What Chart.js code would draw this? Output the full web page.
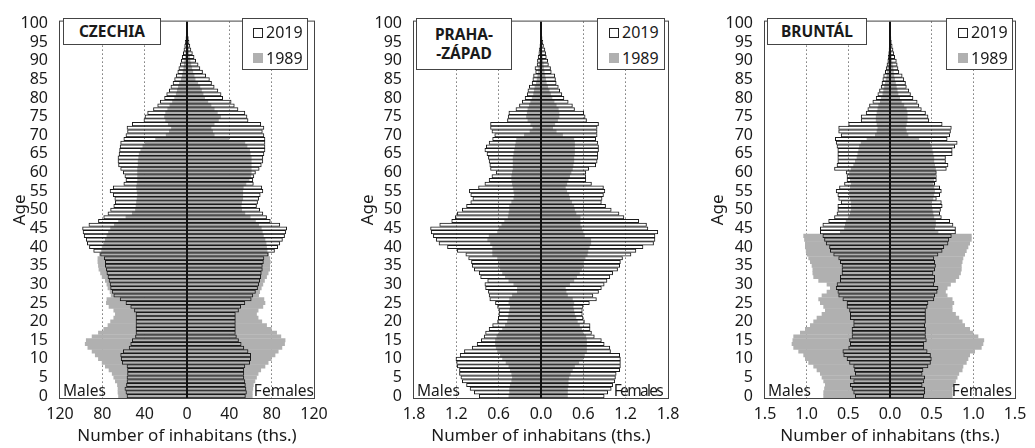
<!DOCTYPE html>
<html><head><meta charset="utf-8">
<script src="https://cdn.jsdelivr.net/npm/chart.js@4.4.1/dist/chart.umd.min.js"></script>
<style>
html,body{margin:0;padding:0;background:#fff;width:1035px;height:448px;overflow:hidden;font-family:"Noto Sans",sans-serif;color:#1a1a1a}
.panel{position:absolute;top:0;height:448px}
.box{position:absolute;border:1px solid #444;background:#fff;box-sizing:border-box}
.ttl{font-weight:bold;font-size:15.5px;display:flex;align-items:center;justify-content:center;text-align:center;line-height:19px}
.sq{position:absolute;width:10px;height:10px;box-sizing:border-box}
.lt{position:absolute;font-size:16px;line-height:18px}
.lab{position:absolute;font-size:15.5px;line-height:18px;top:381px;white-space:nowrap}
</style></head><body>

<div class="panel" id="p0" style="left:0px;width:338px"><canvas id="c0"></canvas></div>
<div class="panel" id="p1" style="left:354px;width:338px"><canvas id="c1"></canvas></div>
<div class="panel" id="p2" style="left:705px;width:336px"><canvas id="c2"></canvas></div>

<div class="box ttl" style="left:63px;top:18px;width:98px;height:27px">CZECHIA</div>
<div class="box ttl" style="left:416px;top:18px;width:96px;height:52px">PRAHA-<br>-ZÁPAD</div>
<div class="box ttl" style="left:767px;top:18px;width:100px;height:27px">BRUNTÁL</div>

<div class="box" style="left:242px;top:18px;width:66px;height:52px">
  <div class="sq" style="left:10px;top:9px;border:1px solid #222;background:#fff"></div><div class="lt" style="left:23px;top:4px">2019</div>
  <div class="sq" style="left:10px;top:34px;background:#b0b0b0"></div><div class="lt" style="left:23px;top:30px">1989</div>
</div>
<div class="box" style="left:597px;top:18px;width:68px;height:52px">
  <div class="sq" style="left:11px;top:9px;border:1px solid #222;background:#fff"></div><div class="lt" style="left:24px;top:4px">2019</div>
  <div class="sq" style="left:11px;top:34px;background:#b0b0b0"></div><div class="lt" style="left:24px;top:30px">1989</div>
</div>
<div class="box" style="left:946px;top:18px;width:67px;height:52px">
  <div class="sq" style="left:11px;top:9px;border:1px solid #222;background:#fff"></div><div class="lt" style="left:24px;top:4px">2019</div>
  <div class="sq" style="left:11px;top:34px;background:#b0b0b0"></div><div class="lt" style="left:24px;top:30px">1989</div>
</div>

<div class="lab" style="left:63px">Males</div>
<div class="lab" style="right:721px">Females</div>
<div class="lab" style="left:417px">Males</div>
<div class="lab" style="right:373px;letter-spacing:-1.7px">Females</div>
<div class="lab" style="left:768px">Males</div>
<div class="lab" style="right:23px">Females</div>

<script>
const ages = [0,1,2,3,4,5,6,7,8,9,10,11,12,13,14,15,16,17,18,19,20,21,22,23,24,25,26,27,28,29,30,31,32,33,34,35,36,37,38,39,40,41,42,43,44,45,46,47,48,49,50,51,52,53,54,55,56,57,58,59,60,61,62,63,64,65,66,67,68,69,70,71,72,73,74,75,76,77,78,79,80,81,82,83,84,85,86,87,88,89,90,91,92,93,94,95,96,97,98,99,100];
const ageTickLabels = [0,5,10,15,20,25,30,35,40,45,50,55,60,65,70,75,80,85,90,95,100];

const czTicks = [-120,-80,-40,0,40,80,120];
const pzTicks = [-1.8,-1.2,-0.6,0,0.6,1.2,1.8];
const brTicks = [-1.5,-1.0,-0.5,0,0.5,1.0,1.5];

// CZECHIA (ths.)
const cz_m19 = [57,58,59,57.5,57,57,56.5,56.5,57,61.5,
 62.5,63,60.5,55,53.5,52,49,48.5,48.5,48.5,
 48.5,48.5,48.5,50,53.5,58,63.5,69.5,71,72.5,
 73,74,75,76,76.5,77.5,77.5,78.5,82,88.5,
 92.5,94.5,95.5,97.5,98.5,99,93,84,79,75,
 72.5,69.5,68,68.5,70,73,70,60,58,59,
 60.5,63,65,65.5,65.5,64.5,64,63.5,63,60,
 58,56.5,57,52,41,40,37.5,32,28,25.5,
 21.5,19.5,17,15.5,13.5,12,10.5,9,8,6.7,
 5.7,4.8,3.8,3.2,2.5,1.9,1.3,0.9,0.6,0.4,
 0.2];
const cz_f19 = [55.5,56.5,56,55.5,55,54,54,54,55,59.5,
 60.5,60.5,58,54,51.5,49,47,46,46,46,
 46,46,46,49,51,55,61,62.5,65,67,
 68,69,70,70.5,71.5,71.5,72.5,73,77,83,
 86,88,90.5,92.5,93.5,94.5,88,79,75.5,72,
 69,66,67,68,69.5,72,71,63,62.5,63.5,
 65,68.5,70.5,72,72,73,74,74,74,74,
 73,71.5,73,70,58,57,55,48.5,45,42,
 34,32.5,29.5,26,23.5,21.5,18,15,12.5,10.8,
 8.5,7,5.4,4,3,2.2,1.6,1.1,0.8,0.5,
 0.4];
const cz_m89 = [65,65.5,65.5,66,68,69.5,71,74,77.5,80.5,
 84,87,90,94,96.5,95.5,90,84,79,75,
 72.5,69.5,68,69.5,74,76.5,76,72,73,75,
 76,77.5,80.5,82,83.5,84,84.5,84.5,83,81,
 80.5,79,77.5,76,74.5,72.5,69,65,58,52,
 49,48.5,48,47.5,47,47.5,48,47.5,47,47,
 47,47,46.5,46.5,46,45.5,44,42,40,30,
 20,17,15,18,20.5,21.5,20.5,18.5,16.5,14,
 12,10.5,9.5,8.5,7.5,5.7,4.8,4,3.3,2.8,
 2.3,1.8,1.4,1.1,0.8,0.6,0.4,0.3,0.2,0.1,
 0.1];
const cz_f89 = [62,62,62.5,63,64.5,66,67.5,70,74,77,
 80,83.5,86.5,90,92.5,93,89,85,80,75.5,
 71,67.5,66,67.5,72,74,73,68,69,70.5,
 72,73.5,75.5,77,78.5,78.5,79,78.5,77.5,76,
 75.5,75,74,72.5,71.5,70.5,68,65,60,55,
 52,51.5,52,53,53,53,53.5,56,59,60.5,
 61,61,61,61,61,60,59.5,57,55,40,
 26,24.5,23,26,30,32,29,26,23,20,
 17,15.5,14,12.5,10.5,8,7,5.8,4.8,4,
 3.2,2.6,2,1.6,1.2,0.9,0.6,0.4,0.3,0.2,
 0.1];

// PRAHA-ZÁPAD (ths.)
const pz_m19 = [0.88,0.95,1.01,1.06,1.12,1.14,1.16,1.16,1.19,1.2,
 1.21,1.15,1.09,0.98,0.91,0.85,0.81,0.79,0.74,0.69,
 0.62,0.61,0.6,0.6,0.62,0.65,0.73,0.74,0.75,0.79,
 0.8,0.76,0.86,0.88,0.95,0.98,0.99,1.03,1.07,1.19,
 1.33,1.45,1.49,1.53,1.56,1.57,1.44,1.27,1.22,1.19,
 1.12,1.06,1.0,0.97,1.0,1.02,0.89,0.8,0.74,0.7,
 0.64,0.72,0.73,0.74,0.75,0.77,0.8,0.78,0.74,0.69,
 0.66,0.7,0.72,0.72,0.48,0.47,0.46,0.36,0.31,0.27,
 0.23,0.2,0.19,0.17,0.13,0.12,0.11,0.08,0.09,0.06,
 0.055,0.045,0.035,0.03,0.02,0.015,0.01,0.008,0.005,0.003,
 0.002];
const pz_f19 = [0.9,0.95,1.0,1.02,1.05,1.06,1.07,1.12,1.13,1.13,
 1.13,1.12,0.99,0.98,0.9,0.86,0.76,0.72,0.7,0.7,
 0.62,0.6,0.59,0.59,0.6,0.69,0.79,0.74,0.82,0.86,
 0.9,0.94,0.98,1.02,1.09,1.12,1.13,1.16,1.28,1.35,
 1.45,1.6,1.62,1.62,1.66,1.52,1.5,1.39,1.18,1.11,
 1.0,0.92,0.86,0.87,0.89,0.91,0.89,0.72,0.64,0.64,
 0.64,0.68,0.78,0.8,0.81,0.81,0.82,0.82,0.81,0.78,
 0.8,0.8,0.8,0.82,0.65,0.63,0.61,0.48,0.45,0.39,
 0.33,0.3,0.27,0.25,0.22,0.21,0.2,0.15,0.14,0.11,
 0.1,0.08,0.07,0.06,0.04,0.03,0.02,0.015,0.01,0.005,
 0.003];
const pz_m89 = [0.46,0.45,0.45,0.44,0.42,0.41,0.42,0.44,0.46,0.5,
 0.55,0.58,0.62,0.64,0.65,0.65,0.63,0.6,0.55,0.51,
 0.48,0.47,0.46,0.45,0.44,0.46,0.45,0.41,0.34,0.34,
 0.39,0.46,0.51,0.55,0.58,0.59,0.59,0.62,0.69,0.69,
 0.69,0.72,0.76,0.74,0.62,0.6,0.56,0.52,0.47,0.46,
 0.45,0.45,0.42,0.39,0.38,0.39,0.4,0.41,0.42,0.42,
 0.41,0.4,0.4,0.4,0.4,0.39,0.38,0.37,0.36,0.35,
 0.24,0.16,0.12,0.15,0.19,0.21,0.2,0.19,0.17,0.15,
 0.13,0.11,0.1,0.09,0.07,0.06,0.05,0.04,0.035,0.03,
 0.02,0.018,0.014,0.01,0.008,0.006,0.004,0.003,0.002,0.001,
 0.001];
const pz_f89 = [0.38,0.38,0.38,0.39,0.39,0.4,0.42,0.45,0.48,0.54,
 0.6,0.62,0.65,0.65,0.65,0.65,0.64,0.6,0.58,0.55,
 0.52,0.5,0.48,0.47,0.46,0.47,0.45,0.38,0.36,0.35,
 0.41,0.47,0.51,0.55,0.58,0.6,0.61,0.63,0.66,0.67,
 0.69,0.71,0.71,0.62,0.6,0.58,0.56,0.56,0.56,0.5,
 0.48,0.47,0.44,0.41,0.4,0.37,0.35,0.37,0.39,0.41,
 0.43,0.45,0.46,0.47,0.47,0.48,0.48,0.48,0.48,0.47,
 0.31,0.22,0.17,0.2,0.24,0.26,0.26,0.25,0.22,0.19,
 0.16,0.14,0.12,0.1,0.08,0.07,0.06,0.05,0.04,0.035,
 0.03,0.024,0.018,0.014,0.01,0.008,0.005,0.003,0.002,0.001,
 0.001];

// BRUNTÁL (ths.)
const br_m19 = [0.42,0.44,0.46,0.48,0.44,0.48,0.42,0.43,0.44,0.49,
 0.52,0.56,0.57,0.5,0.48,0.49,0.46,0.46,0.46,0.44,
 0.44,0.48,0.48,0.49,0.52,0.52,0.57,0.62,0.63,0.65,
 0.64,0.6,0.6,0.58,0.58,0.58,0.6,0.62,0.68,0.72,
 0.73,0.77,0.79,0.81,0.84,0.84,0.81,0.74,0.67,0.64,
 0.63,0.63,0.59,0.62,0.63,0.65,0.61,0.55,0.52,0.52,
 0.53,0.67,0.64,0.63,0.63,0.63,0.63,0.64,0.65,0.66,
 0.59,0.62,0.62,0.5,0.35,0.35,0.29,0.27,0.25,0.21,
 0.17,0.15,0.13,0.11,0.1,0.09,0.08,0.06,0.05,0.04,
 0.03,0.025,0.02,0.015,0.01,0.01,0.006,0.004,0.003,0.002,
 0.001];
const br_f19 = [0.41,0.42,0.42,0.39,0.41,0.42,0.39,0.4,0.46,0.49,
 0.5,0.49,0.45,0.41,0.41,0.44,0.43,0.43,0.43,0.42,
 0.43,0.43,0.43,0.43,0.45,0.46,0.53,0.54,0.57,0.58,
 0.53,0.54,0.54,0.52,0.54,0.55,0.54,0.53,0.58,0.63,
 0.65,0.7,0.71,0.74,0.79,0.79,0.76,0.72,0.62,0.6,
 0.61,0.63,0.62,0.56,0.6,0.62,0.6,0.54,0.56,0.56,
 0.56,0.68,0.7,0.67,0.67,0.75,0.75,0.78,0.81,0.69,
 0.72,0.73,0.74,0.63,0.47,0.46,0.43,0.38,0.35,0.33,
 0.28,0.25,0.23,0.2,0.19,0.17,0.15,0.11,0.1,0.09,
 0.08,0.06,0.05,0.04,0.03,0.02,0.015,0.01,0.006,0.004,
 0.002];
const br_m89 = [0.8,0.8,0.79,0.78,0.8,0.82,0.84,0.88,0.92,0.98,
 1.02,1.04,1.1,1.16,1.18,1.17,1.16,1.08,1.02,0.96,
 0.92,0.88,0.82,0.78,0.8,0.84,0.86,0.82,0.76,0.72,
 0.76,0.86,0.92,0.93,0.93,0.94,0.96,0.98,1.0,1.01,
 1.02,1.02,1.03,1.04,0.6,0.55,0.54,0.53,0.5,0.48,
 0.47,0.47,0.47,0.48,0.49,0.49,0.48,0.47,0.48,0.49,
 0.49,0.47,0.44,0.42,0.4,0.39,0.38,0.37,0.35,0.28,
 0.18,0.16,0.15,0.16,0.17,0.17,0.16,0.15,0.14,0.12,
 0.11,0.09,0.08,0.07,0.06,0.05,0.04,0.035,0.03,0.025,
 0.02,0.015,0.012,0.009,0.006,0.004,0.003,0.002,0.001,0.001,
 0.001];
const br_f89 = [0.75,0.75,0.75,0.77,0.79,0.81,0.83,0.87,0.88,0.92,
 0.94,0.96,1.02,1.1,1.12,1.13,1.06,1.0,0.96,0.9,
 0.87,0.83,0.79,0.75,0.75,0.77,0.75,0.69,0.67,0.69,
 0.73,0.79,0.83,0.85,0.86,0.86,0.87,0.88,0.9,0.92,
 0.94,0.96,0.98,0.98,0.58,0.54,0.55,0.55,0.53,0.52,
 0.51,0.5,0.5,0.52,0.53,0.54,0.53,0.52,0.53,0.54,
 0.55,0.55,0.54,0.53,0.53,0.52,0.51,0.5,0.48,0.35,
 0.22,0.2,0.19,0.2,0.21,0.21,0.21,0.2,0.17,0.14,
 0.12,0.1,0.09,0.08,0.07,0.06,0.05,0.045,0.04,0.03,
 0.025,0.02,0.015,0.01,0.008,0.005,0.004,0.003,0.002,0.001,
 0.001];

Chart.defaults.font.family = '"Noto Sans", sans-serif';
Chart.defaults.font.size = 16;
Chart.defaults.color = '#1a1a1a';

const GRAY = '#b0b0b0';

const framePlugin = {
  id: 'frame',
  afterDatasetsDraw(chart) {
    const {ctx, chartArea: a, scales: {x}} = chart;
    const x0 = Math.round(x.getPixelForValue(0));
    ctx.save();
    ctx.fillStyle = '#111';
    ctx.fillRect(x0 - 1, a.top, 2, a.bottom - a.top);
    ctx.strokeStyle = '#444';
    ctx.lineWidth = 1;
    ctx.strokeRect(a.left - 0.5, a.top - 0.5, a.right - a.left + 1, a.bottom - a.top + 1);
    ctx.restore();
  }
};

function makeChart(canvasId, m19, f19, m89, f89, ticks, dec, yTitlePad, plotW) {
  const lim = ticks[ticks.length - 1];
  new Chart(document.getElementById(canvasId), {
    type: 'bar',
    data: {
      labels: ages,
      datasets: [
        {label: '2019 M', data: m19.map(v => -v), backgroundColor: 'rgba(0,0,0,0)', borderColor: '#1a1a1a', borderWidth: 1, borderSkipped: 'start', barPercentage: 1.1, categoryPercentage: 1, grouped: false},
        {label: '2019 F', data: f19, backgroundColor: 'rgba(0,0,0,0)', borderColor: '#1a1a1a', borderWidth: 1, borderSkipped: 'start', barPercentage: 1.1, categoryPercentage: 1, grouped: false},
        {label: '1989 M', data: m89.map(v => -v), backgroundColor: GRAY, borderWidth: 0, barPercentage: 1.12, categoryPercentage: 1, grouped: false},
        {label: '1989 F', data: f89, backgroundColor: GRAY, borderWidth: 0, barPercentage: 1.12, categoryPercentage: 1, grouped: false}
      ]
    },
    options: {
      indexAxis: 'y',
      responsive: true,
      maintainAspectRatio: false,
      animation: false,
      layout: {padding: {left: 0, right: 24 + (254 - plotW), top: 14, bottom: 0}},
      plugins: {legend: {display: false}, tooltip: {enabled: false}},
      scales: {
        x: {
          type: 'linear', min: -lim, max: lim,
          afterBuildTicks(scale) { scale.ticks = ticks.map(v => ({value: v})); },
          afterFit(scale) { scale.height = 50; },
          ticks: {padding: 7, autoSkip: false, maxRotation: 0,
            callback: v => Math.abs(v).toFixed(dec)},
          grid: {drawTicks: false, lineWidth: 1,
            color: c => (c.tick && c.tick.value !== 0 && Math.abs(c.tick.value) < lim - 1e-9) ? '#333' : 'rgba(0,0,0,0)'},
          border: {display: false, dash: [1, 3]},
          title: {display: true, text: 'Number of inhabitans (ths.)', font: {size: 17}, padding: {top: 0, bottom: 2}}
        },
        y: {
          type: 'category', reverse: true, offset: true,
          afterFit(scale) { scale.width = 60; },
          ticks: {padding: 12, autoSkip: false,
            callback: function(v, i) { const a = ages[i]; return ageTickLabels.includes(a) ? String(a) : ''; }},
          grid: {display: false, drawTicks: false},
          border: {display: false},
          title: {display: true, text: 'Age', font: {size: 17}, padding: {top: yTitlePad, bottom: 0}}
        }
      }
    },
    plugins: [framePlugin]
  });
}

makeChart('c0', cz_m19, cz_f19, cz_m89, cz_f89, czTicks, 0, 10, 254);
makeChart('c1', pz_m19, pz_f19, pz_m89, pz_f89, pzTicks, 1, 4, 254);
makeChart('c2', br_m19, br_f19, br_m89, br_f89, brTicks, 1, 3, 252);
</script>
</body></html>
